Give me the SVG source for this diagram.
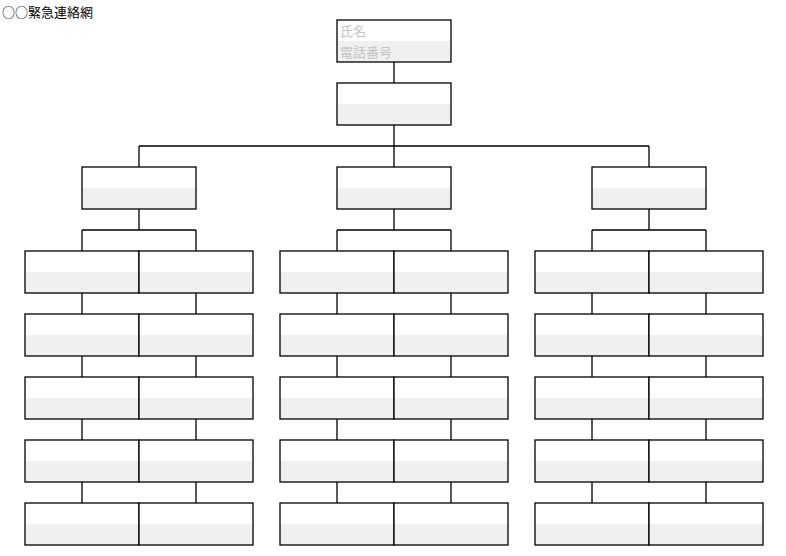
<svg xmlns="http://www.w3.org/2000/svg" xmlns:xlink="http://www.w3.org/1999/xlink" width="786" height="556" viewBox="0 0 786 556">
<style>
.ln{fill:none;stroke:#000;stroke-width:1.3}
.t{font-family:"Noto Sans CJK JP","Liberation Sans",sans-serif;font-size:13px}
.ph{fill:#c4c4c4}
</style>
<defs>
<g id="box">
<rect x="0" y="0" width="114" height="42" fill="#ffffff"/>
<rect x="0" y="21" width="114" height="21" fill="#f0f0f0"/>
<rect x="0" y="0" width="114" height="42" fill="none" stroke="#000" stroke-width="1.3"/>
</g>
</defs>
<rect width="786" height="556" fill="#fff"/>
<text class="t" x="2" y="17" fill="#000">○○緊急連絡網</text>
<g id="connectors" class="ln">
<path d="M394,62V83M394,125V146M139,146H649M139,146V167M394,146V167M649,146V167"/>
<path d="M139,209V230M82,230H196M82,230V251M196,230V251"/>
<path d="M394,209V230M337,230H451M337,230V251M451,230V251"/>
<path d="M649,209V230M592,230H706M592,230V251M706,230V251"/>
<path d="M82,293V314M196,293V314M82,356V377M196,356V377M82,419V440M196,419V440M82,482V503M196,482V503"/>
<path d="M337,293V314M451,293V314M337,356V377M451,356V377M337,419V440M451,419V440M337,482V503M451,482V503"/>
<path d="M592,293V314M706,293V314M592,356V377M706,356V377M592,419V440M706,419V440M592,482V503M706,482V503"/>
</g>
<g id="n-legend"><use xlink:href="#box" x="337" y="20"/><text class="t ph" x="340" y="36">氏名</text><text class="t ph" x="340" y="57">電話番号</text></g>
<g id="n-root"><use xlink:href="#box" x="337" y="83"/></g>
<g id="n-l1"><use xlink:href="#box" x="82" y="167"/></g>
<g id="n-m1"><use xlink:href="#box" x="337" y="167"/></g>
<g id="n-r1"><use xlink:href="#box" x="592" y="167"/></g>
<g id="n-l-1a"><use xlink:href="#box" x="25" y="251"/></g>
<g id="n-l-1b"><use xlink:href="#box" x="139" y="251"/></g>
<g id="n-l-2a"><use xlink:href="#box" x="25" y="314"/></g>
<g id="n-l-2b"><use xlink:href="#box" x="139" y="314"/></g>
<g id="n-l-3a"><use xlink:href="#box" x="25" y="377"/></g>
<g id="n-l-3b"><use xlink:href="#box" x="139" y="377"/></g>
<g id="n-l-4a"><use xlink:href="#box" x="25" y="440"/></g>
<g id="n-l-4b"><use xlink:href="#box" x="139" y="440"/></g>
<g id="n-l-5a"><use xlink:href="#box" x="25" y="503"/></g>
<g id="n-l-5b"><use xlink:href="#box" x="139" y="503"/></g>
<g id="n-m-1a"><use xlink:href="#box" x="280" y="251"/></g>
<g id="n-m-1b"><use xlink:href="#box" x="394" y="251"/></g>
<g id="n-m-2a"><use xlink:href="#box" x="280" y="314"/></g>
<g id="n-m-2b"><use xlink:href="#box" x="394" y="314"/></g>
<g id="n-m-3a"><use xlink:href="#box" x="280" y="377"/></g>
<g id="n-m-3b"><use xlink:href="#box" x="394" y="377"/></g>
<g id="n-m-4a"><use xlink:href="#box" x="280" y="440"/></g>
<g id="n-m-4b"><use xlink:href="#box" x="394" y="440"/></g>
<g id="n-m-5a"><use xlink:href="#box" x="280" y="503"/></g>
<g id="n-m-5b"><use xlink:href="#box" x="394" y="503"/></g>
<g id="n-r-1a"><use xlink:href="#box" x="535" y="251"/></g>
<g id="n-r-1b"><use xlink:href="#box" x="649" y="251"/></g>
<g id="n-r-2a"><use xlink:href="#box" x="535" y="314"/></g>
<g id="n-r-2b"><use xlink:href="#box" x="649" y="314"/></g>
<g id="n-r-3a"><use xlink:href="#box" x="535" y="377"/></g>
<g id="n-r-3b"><use xlink:href="#box" x="649" y="377"/></g>
<g id="n-r-4a"><use xlink:href="#box" x="535" y="440"/></g>
<g id="n-r-4b"><use xlink:href="#box" x="649" y="440"/></g>
<g id="n-r-5a"><use xlink:href="#box" x="535" y="503"/></g>
<g id="n-r-5b"><use xlink:href="#box" x="649" y="503"/></g>
</svg>
